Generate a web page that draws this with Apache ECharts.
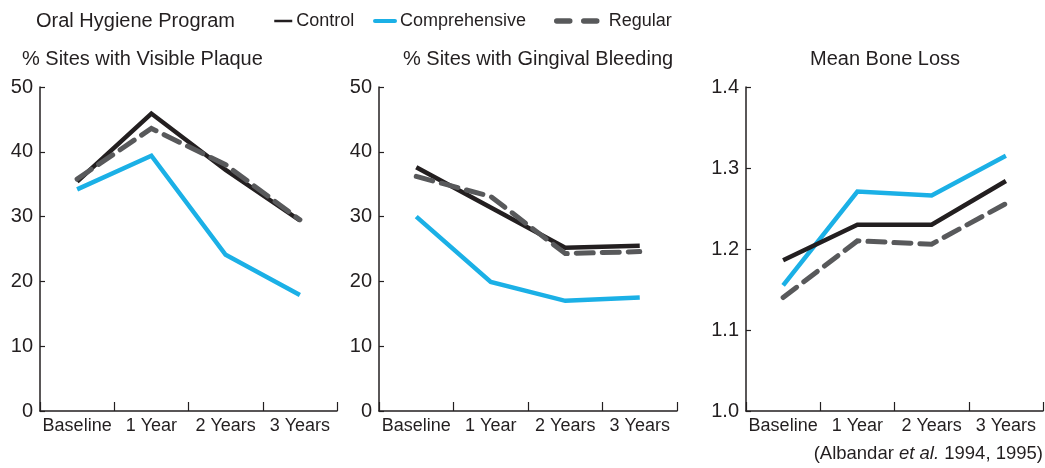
<!DOCTYPE html>
<html>
<head>
<meta charset="utf-8">
<script src="https://cdn.jsdelivr.net/npm/echarts@6/dist/echarts.min.js"></script>
<style>
html,body{margin:0;padding:0;background:#fff;}
#chart{width:1045px;height:468px;}
</style>
</head>
<body>
<div id="chart"></div>
<script>
const categories = ['Baseline', '1 Year', '2 Years', '3 Years'];
const seriesNames = ['Control', 'Comprehensive', 'Regular'];

const plaqueControl = [35.4, 45.9, 37.2, 29.4];
const plaqueComprehensive = [34.2, 39.4, 24.1, 17.9];
const plaqueRegular = [35.8, 43.6, 38.0, 29.5];

const bleedingControl = [37.6, 31.4, 25.2, 25.5];
const bleedingComprehensive = [30.0, 19.9, 17.0, 17.5];
const bleedingRegular = [36.2, 33.1, 24.3, 24.6];

const boneControl = [1.186, 1.23, 1.23, 1.284];
const boneComprehensive = [1.155, 1.271, 1.266, 1.315];
const boneRegular = [1.14, 1.21, 1.206, 1.256];

const panelTitles = ['% Sites with Visible Plaque', '% Sites with Gingival Bleeding', 'Mean Bone Loss'];
const pctTicks = {min: 0, max: 50, interval: 10};
const boneTicks = {min: 1.0, max: 1.4, interval: 0.1};

const TXT = '#231f20';
const COLORS = {Control: '#231f20', Comprehensive: '#1bb0e6', Regular: '#58595b'};
const FONT = '"Liberation Sans", Arial, Helvetica, sans-serif';

const grids = [
  {left: 40, top: 87, width: 297, height: 324},
  {left: 379, top: 87, width: 298, height: 324},
  {left: 746, top: 87, width: 297, height: 324}
];

function xAxis(i) {
  return {
    type: 'category', gridIndex: i, data: categories, boundaryGap: true,
    axisLine: {show: true, lineStyle: {color: TXT, width: 1.5}},
    axisTick: {show: true, inside: true, length: 9, lineStyle: {color: TXT, width: 1.2}},
    axisLabel: {color: TXT, fontSize: 18, fontFamily: FONT, margin: 6, interval: 0}
  };
}
function yAxis(i, t, dec) {
  return {
    type: 'value', gridIndex: i, min: t.min, max: t.max, interval: t.interval,
    axisLine: {show: true, lineStyle: {color: TXT, width: 1.5}},
    axisTick: {show: true, inside: true, length: 5, lineStyle: {color: TXT, width: 1.2}},
    splitLine: {show: false},
    axisLabel: {color: TXT, fontSize: 20, fontFamily: FONT, margin: 7,
      formatter: v => dec ? v.toFixed(1) : String(Math.round(v))}
  };
}
function lineSeries(name, i, data) {
  const dashed = name === 'Regular';
  return {
    name: name, type: 'line', xAxisIndex: i, yAxisIndex: i, data: data,
    symbol: 'none', silent: true, animation: false,
    z: dashed ? 4 : (name === 'Control' ? 3 : 2),
    itemStyle: {color: COLORS[name]},
    lineStyle: {color: COLORS[name], width: dashed ? 5 : 4.5, type: dashed ? [17, 9] : 'solid', cap: dashed ? 'round' : 'butt', join: 'miter'}
  };
}

function legendFor(name, left, itemWidth, textPad, lineStyle) {
  return {
    data: [name], orient: 'horizontal', left: left, top: 12, padding: 0,
    itemWidth: itemWidth, itemHeight: 14,
    itemStyle: {opacity: 0, borderWidth: 0},
    lineStyle: lineStyle,
    textStyle: {color: TXT, fontSize: 18, fontFamily: FONT, padding: [0, 0, 0, textPad]}
  };
}

const titleStyle = {color: TXT, fontSize: 20, fontWeight: 'normal', fontFamily: FONT};

const option = {
  backgroundColor: '#fff',
  animation: false,
  textStyle: {fontFamily: FONT},
  title: [
    {text: 'Oral Hygiene Program', left: 31, top: 6, textStyle: titleStyle},
    {text: panelTitles[0], left: 17, top: 44, textStyle: titleStyle},
    {text: panelTitles[1], left: 398, top: 44, textStyle: titleStyle},
    {text: panelTitles[2], left: 805, top: 44, textStyle: titleStyle},
    {text: '(Albandar {i|et al.} 1994, 1995)', right: -3, top: 439,
      textStyle: {color: TXT, fontSize: 18.5, fontWeight: 'normal', fontFamily: FONT,
        rich: {i: {fontStyle: 'italic', fontSize: 18.5, color: TXT, fontFamily: FONT}}}}
  ],
  legend: [
    legendFor('Control', 273, 18, -1, {width: 2.5, color: COLORS.Control, type: 'solid'}),
    legendFor('Comprehensive', 373, 20, 0, {width: 4, color: COLORS.Comprehensive, type: 'solid', cap: 'round'}),
    legendFor('Regular', 554, 40, 7, {width: 5.5, color: COLORS.Regular, type: [13, 14], cap: 'round'})
  ],
  grid: grids,
  xAxis: [xAxis(0), xAxis(1), xAxis(2)],
  yAxis: [yAxis(0, pctTicks, false), yAxis(1, pctTicks, false), yAxis(2, boneTicks, true)],
  series: [
    lineSeries('Control', 0, plaqueControl),
    lineSeries('Comprehensive', 0, plaqueComprehensive),
    lineSeries('Regular', 0, plaqueRegular),
    lineSeries('Control', 1, bleedingControl),
    lineSeries('Comprehensive', 1, bleedingComprehensive),
    lineSeries('Regular', 1, bleedingRegular),
    lineSeries('Control', 2, boneControl),
    lineSeries('Comprehensive', 2, boneComprehensive),
    lineSeries('Regular', 2, boneRegular)
  ]
};

const chart = echarts.init(document.getElementById('chart'), null, {renderer: 'canvas'});
chart.setOption(option);
</script>
</body>
</html>
